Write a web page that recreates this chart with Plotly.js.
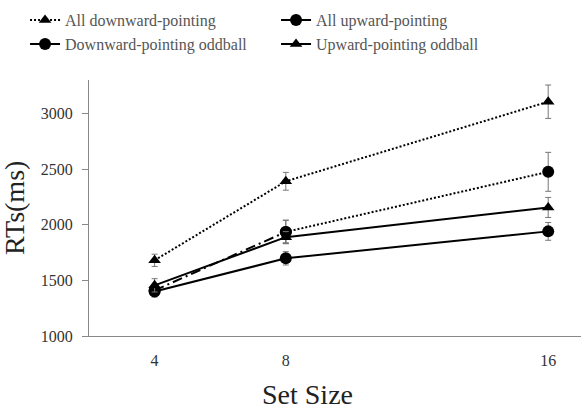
<!DOCTYPE html>
<html>
<head>
<meta charset="utf-8">
<script src="https://cdn.plot.ly/plotly-3.0.1.min.js"></script>
<style>html,body{margin:0;padding:0;background:#fff;}#chart{width:581px;height:411px;}</style>
</head>
<body>
<div id="chart"></div>
<script>
const setSizes = [4, 8, 16];
const tickLabels = ['4', '8', '16'];

const allDownward = [1680, 2390, 3105];
const allDownwardErr = [55, 80, 150];

const allUpward = [1410, 1935, 2475];
const allUpwardErr = [50, 105, 175];

const downOddball = [1400, 1698, 1940];
const downOddballErr = [50, 60, 80];

const upOddball = [1455, 1888, 2155];
const upOddballErr = [60, 50, 90];

const seriesNames = ['All downward-pointing', 'All upward-pointing', 'Downward-pointing oddball', 'Upward-pointing oddball'];

const font = 'Liberation Serif';
const errStyle = (arr) => ({type: 'data', array: arr, visible: true, color: '#777', thickness: 1, width: 3});

const traces = [
  {
    x: setSizes, y: allDownward, name: seriesNames[0], type: 'scatter', mode: 'lines+markers',
    line: {color: '#000', width: 2, dash: '2px,2px'},
    marker: {symbol: 'triangle-up', size: 11, color: '#000'},
    error_y: errStyle(allDownwardErr)
  },
  {
    x: setSizes.slice(0, 2), y: allUpward.slice(0, 2), name: seriesNames[1], type: 'scatter', mode: 'lines+markers',
    legendgroup: 'au',
    line: {color: '#000', width: 2, dash: '10px,4px,2px,4px'},
    marker: {symbol: 'circle', size: 12, color: '#000'},
    error_y: errStyle(allUpwardErr.slice(0, 2))
  },
  {
    x: setSizes.slice(1), y: allUpward.slice(1), name: seriesNames[1], type: 'scatter', mode: 'lines+markers',
    legendgroup: 'au', showlegend: false,
    line: {color: '#000', width: 2, dash: '2px,2px'},
    marker: {symbol: 'circle', size: 12, color: '#000'},
    error_y: errStyle(allUpwardErr.slice(1))
  },
  {
    x: setSizes, y: downOddball, name: seriesNames[2], type: 'scatter', mode: 'lines+markers',
    line: {color: '#000', width: 2},
    marker: {symbol: 'circle', size: 12, color: '#000'},
    error_y: errStyle(downOddballErr)
  },
  {
    x: setSizes, y: upOddball, name: seriesNames[3], type: 'scatter', mode: 'lines+markers',
    line: {color: '#000', width: 2},
    marker: {symbol: 'triangle-up', size: 11, color: '#000'},
    error_y: errStyle(upOddballErr)
  }
];

const layout = {
  width: 581, height: 411,
  margin: {l: 89, r: 0, t: 80, b: 75},
  paper_bgcolor: '#fff', plot_bgcolor: '#fff',
  font: {family: font, color: '#333', size: 16},
  showlegend: true,
  legend: {
    orientation: 'h', x: -0.13, xanchor: 'left', y: 1.3, yanchor: 'top',
    entrywidth: 206, entrywidthmode: 'pixels',
    font: {family: font, size: 16, color: '#555'},
    bgcolor: 'rgba(0,0,0,0)', tracegroupgap: 0, itemwidth: 30
  },
  xaxis: {
    range: [2, 17], tickvals: setSizes, ticktext: tickLabels,
    showgrid: false, zeroline: false, showline: true, linecolor: '#888', linewidth: 1,
    ticks: '', ticklabelstandoff: 10,
    tickfont: {family: font, size: 16, color: '#333'}
  },
  yaxis: {
    range: [1000, 3300], tickvals: [1000, 1500, 2000, 2500, 3000],
    showgrid: false, zeroline: false, showline: true, linecolor: '#888', linewidth: 1,
    ticks: 'outside', ticklen: 6, tickcolor: '#888', ticklabelstandoff: 6,
    tickfont: {family: font, size: 16, color: '#333'}
  },
  annotations: [
    {text: 'Set Size', xref: 'paper', yref: 'paper', x: (307 - 89) / 492, y: -(394 - 336) / 256,
     xanchor: 'center', yanchor: 'middle', showarrow: false, font: {family: font, size: 28, color: '#222'}},
    {text: 'RTs(ms)', xref: 'paper', yref: 'paper', x: (14 - 89) / 492, y: (336 - 208) / 256,
     xanchor: 'center', yanchor: 'middle', textangle: -90, showarrow: false, font: {family: font, size: 28, color: '#222'}}
  ]
};

Plotly.newPlot('chart', traces, layout, {displayModeBar: false, staticPlot: true});
</script>
</body>
</html>
